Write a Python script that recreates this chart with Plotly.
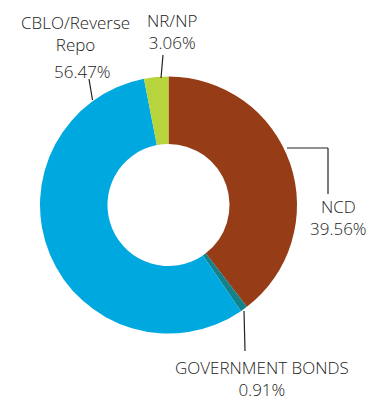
import plotly.graph_objects as go

labels = ["NCD", "GOVERNMENT BONDS", "CBLO/Reverse Repo", "NR/NP"]
values = [39.56, 0.91, 56.47, 3.06]
colors = ["#963C16", "#13828A", "#00A8E0", "#B8D43C"]

W, H = 382, 400
cx, cy, R = 168.5, 205, 128.5


def px(x):
    return x / W


def py(y):
    return 1 - y / H


fig = go.Figure(go.Pie(
    labels=labels, values=values, sort=False, direction="clockwise", rotation=0,
    hole=0.475, textinfo="none", hoverinfo="label+percent",
    marker=dict(colors=colors, line=dict(width=0)),
    domain=dict(x=[px(cx - R), px(cx + R)], y=[py(cy + R), py(cy - R)]),
    showlegend=False,
))

font = dict(family="Open Sans, Noto Sans, sans-serif", size=17, color="#222222", weight=300)


def pct(v):
    return f"{v:.2f}%"


ann = [
    ("CBLO/Reverse<br>Repo", 75, 33),
    (pct(values[2]), 82, 71),
    (f"{labels[3]}<br>{pct(values[3])}", 171.5, 32),
    (f"{labels[0]}<br>{pct(values[0])}", 338, 217),
    (f"{labels[1]}<br>{pct(values[1])}", 262, 378.5),
]
for t, x, y in ann:
    fig.add_annotation(text=t, x=px(x), y=py(y), xref="paper", yref="paper",
                       showarrow=False, font=font, xanchor="center", yanchor="middle")

lines = [
    [(92.5, 100), (89, 79)],
    [(161, 78), (163, 55)],
    [(287, 148), (328, 148), (328, 194)],
    [(244, 311), (245, 351)],
]
for pts in lines:
    for (x0, y0), (x1, y1) in zip(pts[:-1], pts[1:]):
        fig.add_shape(type="line", xref="paper", yref="paper",
                      x0=px(x0), y0=py(y0), x1=px(x1), y1=py(y1),
                      line=dict(color="#222222", width=1.2))

fig.update_layout(width=W, height=H, margin=dict(l=0, r=0, t=0, b=0),
                  paper_bgcolor="white", plot_bgcolor="white")
fig.write_html("out.html")
